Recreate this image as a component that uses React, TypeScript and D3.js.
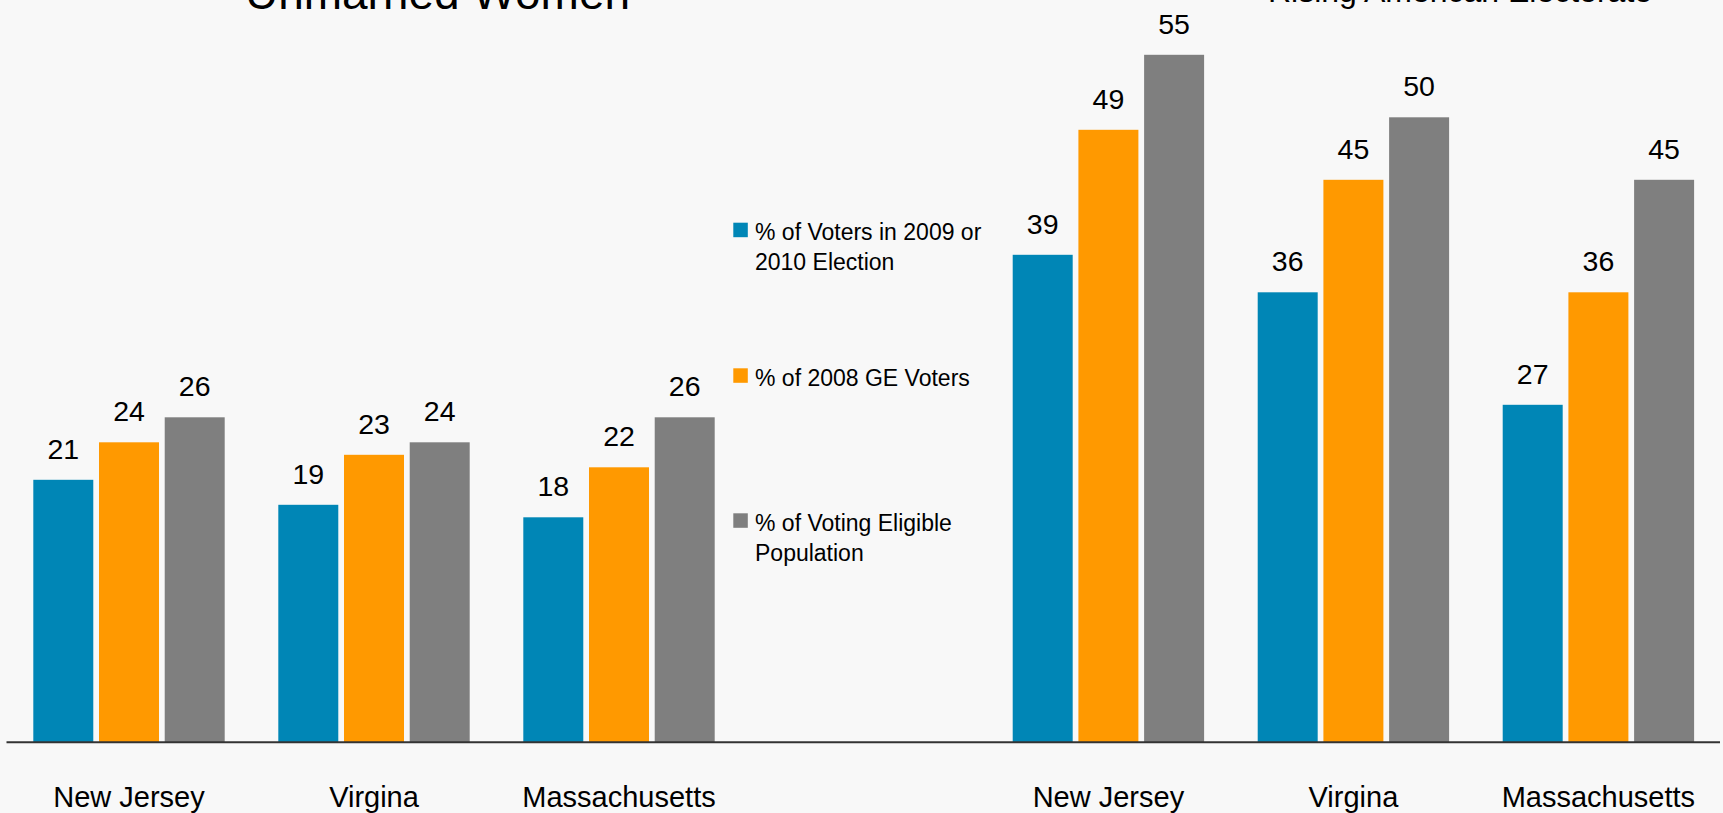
import React from "react";
import * as d3 from "d3";

const states = ["New Jersey", "Virgina", "Massachusetts"];
const seriesNames = [
  "% of Voters in 2009 or 2010 Election",
  "% of 2008 GE Voters",
  "% of Voting Eligible Population",
];
const seriesKeys = ["v0910", "ge08", "vep"];
const seriesColors = ["#0086b6", "#ff9900", "#7f7f7f"];
const legendLines = [
  ["% of Voters in 2009 or", "2010 Election"],
  ["% of 2008 GE Voters"],
  ["% of Voting Eligible", "Population"],
];

// Unmarried Women
const uwVoters0910 = [21, 19, 18];
const uwGE2008 = [24, 23, 22];
const uwVEP = [26, 24, 26];

// Rising American Electorate
const raeVoters0910 = [39, 36, 27];
const raeGE2008 = [49, 45, 36];
const raeVEP = [55, 50, 45];

const titles = ["Unmarried Women", "Rising American Electorate"];

const W = 1723;
const H = 813;
const FONT = "'Liberation Sans', Arial, sans-serif";

const baseY = 742.3;
const y = d3.scaleLinear().domain([0, 60]).range([baseY, baseY - 750]);

type Panel = {
  title: string;
  values: number[][];
  x0: number;
  titleX: number;
  titleY: number;
  titleSize: number;
};

const panels: Panel[] = [
  {
    title: titles[0],
    values: [uwVoters0910, uwGE2008, uwVEP],
    x0: 6.5,
    titleX: 437.5,
    titleY: 8.5,
    titleSize: 46,
  },
  {
    title: titles[1],
    values: [raeVoters0910, raeGE2008, raeVEP],
    x0: 985.9,
    titleX: 1460,
    titleY: 2,
    titleSize: 32,
  },
];

function PanelChart({ p }: { p: Panel }) {
  const x = d3
    .scaleBand<string>()
    .domain(states)
    .range([p.x0, p.x0 + 735])
    .paddingInner(0.2188)
    .paddingOuter(0.1094);
  const xi = d3
    .scaleBand<string>()
    .domain(seriesKeys)
    .range([0, x.bandwidth()])
    .paddingInner(0.087)
    .paddingOuter(0);
  return (
    <g>
      <text
        x={p.titleX}
        y={p.titleY}
        textAnchor="middle"
        fontSize={p.titleSize}
        fontFamily={FONT}
        fill="#000"
      >
        {p.title}
      </text>
      {states.map((s, i) => (
        <g key={s}>
          {seriesKeys.map((k, j) => {
            const v = p.values[j][i];
            const bx = (x(s) ?? 0) + (xi(k) ?? 0);
            return (
              <g key={k}>
                <rect
                  x={bx}
                  y={y(v)}
                  width={xi.bandwidth()}
                  height={baseY - y(v)}
                  fill={seriesColors[j]}
                />
                <text
                  x={bx + xi.bandwidth() / 2}
                  y={y(v) - 21}
                  textAnchor="middle"
                  fontSize={28.5}
                  fontFamily={FONT}
                  fill="#000"
                >
                  {v}
                </text>
              </g>
            );
          })}
          <text
            x={(x(s) ?? 0) + x.bandwidth() / 2}
            y={807}
            textAnchor="middle"
            fontSize={29}
            fontFamily={FONT}
            fill="#000"
          >
            {s}
          </text>
        </g>
      ))}
    </g>
  );
}

export default function App() {
  const legendTop = [222.7, 368.3, 513.3];
  return (
    <svg
      width={W}
      height={H}
      style={{ position: "absolute", left: 0, top: 0, display: "block", background: "#f8f8f8" }}
    >
      <rect x={0} y={0} width={W} height={H} fill="#f8f8f8" />
      {panels.map((p) => (
        <PanelChart key={p.title} p={p} />
      ))}
      <line x1={6.5} x2={1720} y1={baseY} y2={baseY} stroke="#333333" strokeWidth={2} />
      {seriesNames.map((n, j) => (
        <g key={n}>
          <rect x={733.3} y={legendTop[j]} width={14.5} height={14.5} fill={seriesColors[j]} />
          {legendLines[j].map((line, li) => (
            <text
              key={li}
              x={755}
              y={legendTop[j] + 17.3 + li * 30}
              fontSize={23}
              fontFamily={FONT}
              fill="#000"
            >
              {line}
            </text>
          ))}
        </g>
      ))}
    </svg>
  );
}
